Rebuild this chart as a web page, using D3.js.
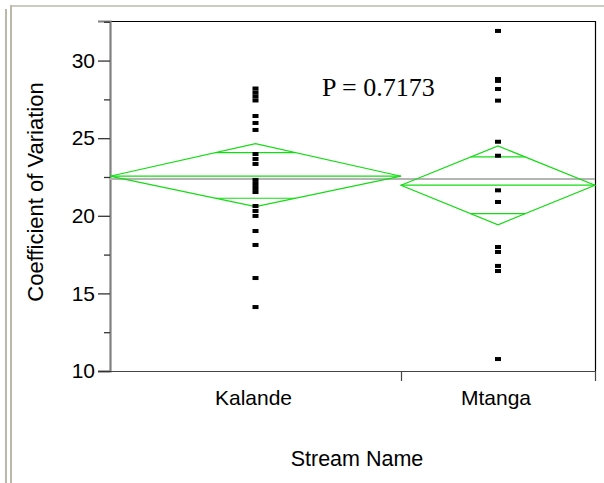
<!DOCTYPE html>
<html>
<head>
<meta charset="utf-8">
<script src="https://cdn.jsdelivr.net/npm/d3@7"></script>
<style>
  html, body { margin: 0; padding: 0; background: #fff; }
  svg { display: block; }
</style>
</head>
<body>
<script>
// ---- data ----
const categories = ["Kalande", "Mtanga"];
const kalandeValues = [28.20, 27.94, 27.69, 27.43, 26.43, 25.98, 25.53, 23.98, 23.66, 23.34,
  22.31, 22.05, 21.79, 21.53, 20.63, 20.31, 19.99, 19.02, 18.12, 15.99, 14.12];
const mtangaValues = [31.91, 28.81, 28.69, 28.17, 27.42, 24.77, 23.87, 21.64, 20.89,
  17.99, 17.67, 16.77, 16.44, 10.77];
const groupMeans = [22.55, 21.97];
const ciLower = [20.59, 19.42];
const ciUpper = [24.65, 24.50];
const overlapLower = [21.13, 20.14];
const overlapUpper = [24.07, 23.79];
const grandMean = 22.37;
const yMajorTicks = [10, 15, 20, 25, 30];
const yMinorTicks = [12.5, 17.5, 22.5, 27.5, 32.5];
const pLabel = "P = 0.7173";
const yTitle = "Coefficient of Variation";
const xTitle = "Stream Name";

const groups = [kalandeValues, mtangaValues];

(function () {
// ---- layout ----
const W = 604, H = 483;
const pL = 110, pR = 595, pT = 21, pB = 371;
const green = "rgb(20,220,20)";
const sans = "Liberation Sans, Arial, sans-serif";

const svg = d3.select("body").append("svg").attr("width", W).attr("height", H);

// window frame
const frameCol = "#bdb9aa";
svg.append("line").attr("x1", 6).attr("x2", 6).attr("y1", 9).attr("y2", H).attr("stroke", frameCol).attr("stroke-width", 2);
svg.append("line").attr("x1", 11).attr("x2", 11).attr("y1", 5).attr("y2", H).attr("stroke", frameCol).attr("stroke-width", 2);
svg.append("line").attr("x1", 10).attr("x2", W).attr("y1", 6).attr("y2", 6).attr("stroke", frameCol).attr("stroke-width", 1.5);

// scales
const y = d3.scaleLinear().domain([10, 32.55]).range([pB, pT]);
const counts = groups.map(g => g.length);
const cum = [0]; counts.forEach((c, i) => cum.push(cum[i] + c));
const x = d3.scaleLinear().domain([0, cum[cum.length - 1]]).range([pL, pR]);
const bands = categories.map((c, i) => ({ name: c, x0: x(cum[i]), x1: x(cum[i + 1]), xm: (x(cum[i]) + x(cum[i + 1])) / 2 }));

// frame top / right
svg.append("line").attr("x1", pL).attr("x2", pR).attr("y1", pT + 0.5).attr("y2", pT + 0.5).attr("stroke", "#000").attr("stroke-width", 1.2);
svg.append("line").attr("x1", pR + 0.5).attr("x2", pR + 0.5).attr("y1", pT).attr("y2", pB).attr("stroke", "#000").attr("stroke-width", 1.2);

// y axis
const yAxis = d3.axisLeft(y).tickValues(yMajorTicks).tickSize(12).tickPadding(3).tickFormat(d3.format("d"));
const gy = svg.append("g").attr("transform", `translate(${pL},0)`).call(yAxis);
gy.select(".domain").attr("stroke", "#808080").attr("stroke-width", 2.2);
gy.selectAll(".tick line").attr("stroke", "#333").attr("stroke-width", 1.3);
gy.selectAll(".tick text").attr("font-family", sans).attr("font-size", 21).attr("fill", "#000");
const gyMinor = svg.append("g").attr("transform", `translate(${pL},0)`)
  .call(d3.axisLeft(y).tickValues(yMinorTicks).tickSize(6).tickFormat(""));
gyMinor.select(".domain").remove();
gyMinor.selectAll(".tick line").attr("stroke", "#333").attr("stroke-width", 1.3);

// x axis
svg.append("line").attr("x1", pL).attr("x2", pR + 1).attr("y1", pB + 0.5).attr("y2", pB + 0.5).attr("stroke", "#444").attr("stroke-width", 1.2);
svg.selectAll(".xtick").data(bands).enter().append("line")
  .attr("x1", d => d.x1 + 0.5).attr("x2", d => d.x1 + 0.5)
  .attr("y1", pB).attr("y2", pB + 10).attr("stroke", "#444").attr("stroke-width", 1.2);
svg.selectAll(".xlab").data(bands).enter().append("text")
  .attr("x", d => d.xm - 2).attr("y", 405).attr("text-anchor", "middle")
  .attr("font-family", sans).attr("font-size", 21)
  .text(d => d.name);

// titles
svg.append("text").attr("x", 357).attr("y", 466).attr("text-anchor", "middle")
  .attr("font-family", sans).attr("font-size", 21.5).text(xTitle);
svg.append("text").attr("transform", "translate(43,192) rotate(-90)").attr("text-anchor", "middle")
  .attr("font-family", sans).attr("font-size", 22).text(yTitle);

// grand mean
svg.append("line").attr("x1", pL).attr("x2", pR).attr("y1", y(grandMean)).attr("y2", y(grandMean))
  .attr("stroke", "#b4b4b4").attr("stroke-width", 2);

// means diamonds
bands.forEach((b, i) => {
  const m = groupMeans[i], lo = ciLower[i], hi = ciUpper[i];
  const pts = [[b.x0, y(m)], [b.xm, y(hi)], [b.x1, y(m)], [b.xm, y(lo)]];
  svg.append("path").attr("d", d3.line()(pts) + "Z").attr("fill", "none").attr("stroke", green).attr("stroke-width", 1.2);
  svg.append("line").attr("x1", b.x0).attr("x2", b.x1).attr("y1", y(m)).attr("y2", y(m)).attr("stroke", green).attr("stroke-width", 1.2);
  [overlapUpper[i], overlapLower[i]].forEach(u => {
    const ext = u > m ? hi : lo;
    const hw = (b.x1 - b.x0) / 2 * (1 - Math.abs(y(u) - y(m)) / Math.abs(y(ext) - y(m)));
    svg.append("line").attr("x1", b.xm - hw).attr("x2", b.xm + hw).attr("y1", y(u)).attr("y2", y(u))
      .attr("stroke", green).attr("stroke-width", 1.2);
  });
});

// points
bands.forEach((b, i) => {
  svg.selectAll(null).data(groups[i]).enter().append("rect")
    .attr("x", b.xm - 3).attr("y", d => y(d) - 2).attr("width", 6).attr("height", 4).attr("fill", "#000");
});

// P label
svg.append("text").attr("x", 322).attr("y", 96).attr("font-family", "Liberation Serif, Times New Roman, serif")
  .attr("font-size", 26).text(pLabel);
})();
</script>
</body>
</html>
